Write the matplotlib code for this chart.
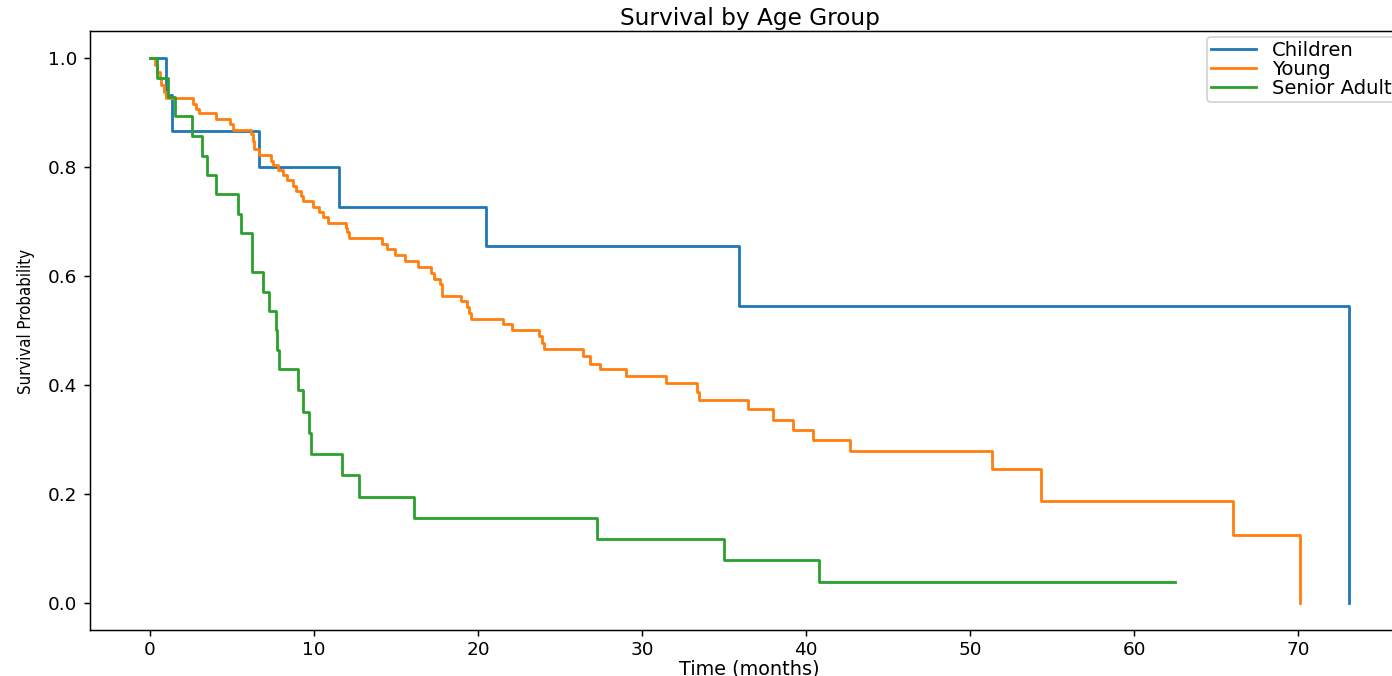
import matplotlib.pyplot as plt
from matplotlib import font_manager

# 생존곡선 데이터
child_t = [0, 0.97, 1.36, 6.66, 11.5, 20.48, 35.9, 73.1]
child_s = [1.0, 0.933, 0.867, 0.800, 0.727, 0.655, 0.545, 0.0]

young_t = [0, 0.3, 0.45, 0.6, 0.7, 0.85, 1.0, 2.6, 2.82, 3.0, 4.02, 4.88, 5.04,
           6.14, 6.26, 6.34, 6.67, 7.4, 7.5, 7.83, 8.13, 8.33, 8.7, 8.88, 9.2, 9.35,
           9.91, 10.32, 10.52, 10.87, 11.95, 12.03, 12.15, 14.12, 14.43, 14.94, 15.55,
           16.36, 17.15, 17.3, 17.66, 17.78, 18.94, 19.3, 19.47, 19.6, 21.55, 22.05,
           23.72, 23.88, 24.02, 26.38, 26.83, 27.44, 29.0, 31.43, 33.37, 33.45, 36.46,
           37.99, 39.2, 40.4, 42.7, 51.3, 54.3, 66.0, 70.1]
young_s = [1.0, 0.988, 0.975, 0.963, 0.951, 0.938, 0.926, 0.916, 0.907, 0.899, 0.889,
           0.879, 0.869, 0.860, 0.848, 0.833, 0.823, 0.811, 0.803, 0.795, 0.785, 0.776,
           0.765, 0.757, 0.747, 0.738, 0.727, 0.717, 0.709, 0.698, 0.689, 0.680, 0.669,
           0.658, 0.649, 0.638, 0.627, 0.616, 0.606, 0.595, 0.585, 0.564, 0.554, 0.544,
           0.533, 0.522, 0.511, 0.500, 0.489, 0.477, 0.466, 0.453, 0.439, 0.430, 0.417,
           0.403, 0.387, 0.372, 0.355, 0.336, 0.317, 0.298, 0.279, 0.246, 0.186, 0.124, 0.0]

senior_t = [0, 0.4, 1.08, 1.52, 2.58, 3.15, 3.45, 4.02, 5.34, 5.52, 6.24, 6.87, 7.27,
            7.66, 7.76, 7.88, 9.0, 9.35, 9.71, 9.79, 11.7, 12.74, 16.09, 27.24, 34.98,
            40.77, 62.5]
senior_s = [1.0, 0.964, 0.929, 0.893, 0.857, 0.821, 0.786, 0.750, 0.714, 0.679, 0.607,
            0.571, 0.536, 0.500, 0.464, 0.429, 0.390, 0.351, 0.312, 0.273, 0.234, 0.195,
            0.156, 0.117, 0.078, 0.039, 0.039]

groups = ['Children', 'Young', 'Senior Adult']

fig = plt.figure(figsize=(10.44, 5.07), dpi=133.34)
# 오른쪽이 잘린 원본처럼 축을 그림 밖까지 늘림
ax = fig.add_axes([90 / 1392, 46 / 676, 1319 / 1392, 599 / 676])

ax.step(child_t, child_s, where='post', label=groups[0])
ax.step(young_t, young_s, where='post', label=groups[1])
ax.step(senior_t, senior_s, where='post', label=groups[2])

ax.set_title('Survival by Age Group', fontsize=12.6, pad=3)
ax.tick_params(axis='x', pad=2.5)
ax.set_xlabel('Time (months)', fontsize=10.4, labelpad=0)

# y축 제목은 좁은 글꼴 (있으면 사용)
narrow = [f for f in font_manager.fontManager.ttflist
          if ('Narrow' in f.name or 'Condensed' in f.name or f.stretch in ('condensed', 'semi-condensed'))
          and f.weight in (400, 'normal', 'regular') and f.style == 'normal']
if narrow:
    ylab_font = font_manager.FontProperties(fname=narrow[0].fname, size=10.5)
else:
    ylab_font = font_manager.FontProperties(family='DejaVu Sans', size=8)
ylab = ax.set_ylabel('Survival Probability', fontproperties=ylab_font)
ax.yaxis.set_label_coords(-0.042, 0.515)

# 글자 길이를 원본(약 145px)에 맞춤
fig.canvas.draw()
h = ylab.get_window_extent().height
ylab.set_fontsize(ylab.get_fontsize() * 145 / h)

ax.legend(loc='upper left', bbox_to_anchor=(1207 / 1392, 1 - 37 / 676),
          bbox_transform=fig.transFigure, fontsize=10.6, labelspacing=0,
          borderpad=0.2, handlelength=2.3, borderaxespad=0)

fig.savefig('out.png', dpi=133.34)
